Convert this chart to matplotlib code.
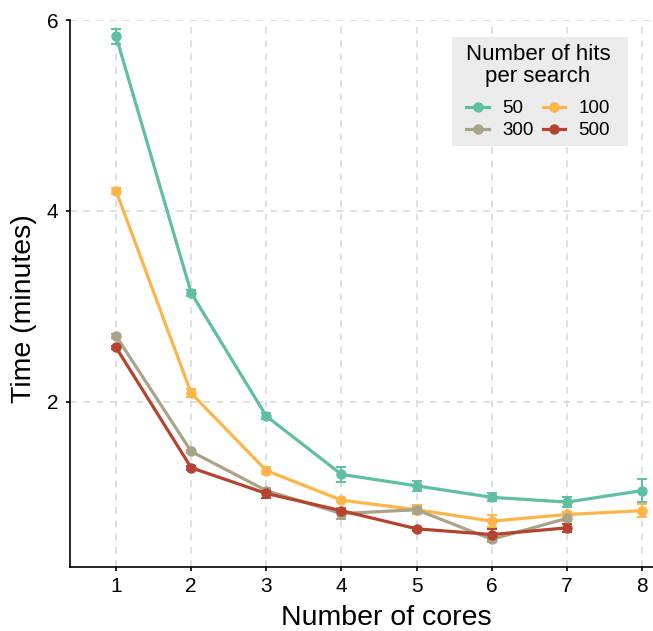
import matplotlib
matplotlib.use("Agg")
import matplotlib.pyplot as plt
from matplotlib.lines import Line2D
from matplotlib.patches import Rectangle

plt.rcParams['font.family'] = ['Liberation Sans', 'DejaVu Sans']

cores = [1, 2, 3, 4, 5, 6, 7, 8]
hits_labels = ["50", "100", "300", "500"]

t50 = [5.83, 3.14, 1.85, 1.24, 1.12, 1.00, 0.95, 1.07]
e50 = [0.08, 0.03, 0.03, 0.08, 0.05, 0.04, 0.05, 0.12]
t100 = [4.21, 2.09, 1.28, 0.97, 0.87, 0.75, 0.82, 0.86]
e100 = [0.03, 0.04, 0.04, 0.02, 0.05, 0.06, 0.03, 0.07]
t300 = [2.69, 1.48, 1.07, 0.83, 0.87, 0.56, 0.78, None]
e300 = [0.02, 0.02, 0.03, 0.06, 0.03, 0.03, 0.03, None]
t500 = [2.57, 1.31, 1.04, 0.86, 0.67, 0.61, 0.68, None]
e500 = [0.02, 0.02, 0.05, 0.02, 0.02, 0.06, 0.04, None]

colors = ["#5fbfa3", "#fdb54a", "#a9a38a", "#b4432f"]

W, H = 653, 631
fig = plt.figure(figsize=(W / 100, H / 100), dpi=100)
ax = fig.add_axes([70 / W, 1 - 567 / H, 1 - 70 / W, (567 - 20) / H])

series = [(t50, e50), (t100, e100), (t300, e300), (t500, e500)]
for (t, e), c, lab in zip(series, colors, hits_labels):
    xs = [x for x, v in zip(cores, t) if v is not None]
    ys = [v for v in t if v is not None]
    es = [v for v in e if v is not None]
    ax.errorbar(xs, ys, yerr=es, color=c, lw=2.3, marker='o', ms=6.5,
                capsize=3.5, elinewidth=1.4, capthick=1.4, label=lab, zorder=3)

ax.set_xlim(0.387, 8.146)
ax.set_ylim(0.27, 6.0)
ax.set_xticks(cores)
ax.set_yticks([2, 4, 6])
ax.grid(True, color="#d9d9d9", linestyle=(0, (4, 4)), lw=1.2, zorder=0)
for s in ["top", "right"]:
    ax.spines[s].set_visible(False)
for s in ["left", "bottom"]:
    ax.spines[s].set_linewidth(1.2)
ax.tick_params(axis='both', direction='out', length=3, width=1.2, labelsize=15)
ax.tick_params(axis='y', pad=5.5)
ax.tick_params(axis='x', pad=4.5)
ax.set_xlabel("Number of cores", fontsize=20.5)
ax.set_ylabel("Time (minutes)", fontsize=20.5)
ax.xaxis.set_label_coords((384 - 70) / 578, (567 - 605) / 547)
ax.yaxis.set_label_coords((37 - 70) / 578, (567 - 308.5) / 547)

# legend background box
ax.add_patch(Rectangle((452 / W, 1 - 146 / H), 176 / W, 109 / H,
                       transform=fig.transFigure, facecolor="#ebebeb",
                       edgecolor="none", clip_on=False, zorder=4))

# ncol=2 fills column-first; order so rows read 50,100 / 300,500
order = [0, 2, 1, 3]
handles = [Line2D([0], [0], color=colors[i], lw=2.3, marker='o', ms=6.5) for i in order]
labels = [hits_labels[i] for i in order]
leg = ax.legend(handles, labels, title="Number of hits\nper search", ncol=2,
                loc='upper center', bbox_to_anchor=(538 / W, 1 - 37 / H),
                bbox_transform=fig.transFigure, frameon=False,
                fontsize=13.5, title_fontsize=16, handlelength=1.2,
                columnspacing=0.5, handletextpad=0.7, borderpad=0.35,
                labelspacing=0.25, borderaxespad=0)
leg.set_zorder(5)
leg.get_title().set_multialignment('center')
leg.get_title().set_linespacing(1.1)
leg._legend_box.sep = 0.25 * 13.5 + 6

fig.savefig("out.png", dpi=100)
